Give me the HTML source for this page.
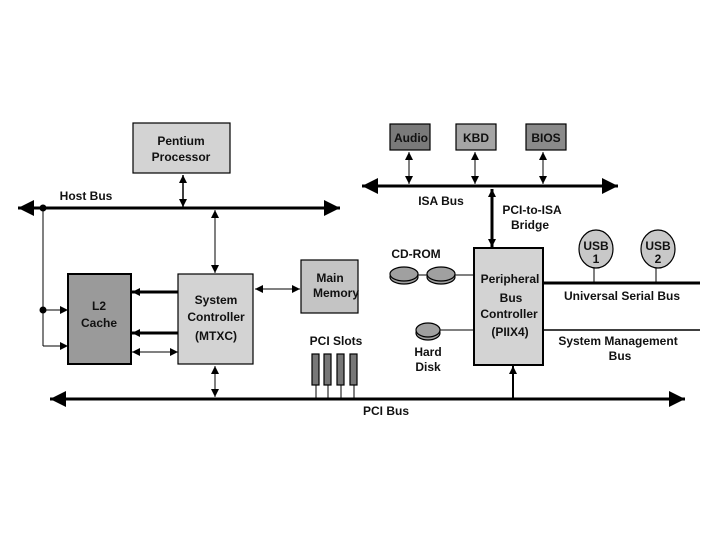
<!DOCTYPE html>
<html><head><meta charset="utf-8"><style>
html,body{margin:0;padding:0;background:#fff;}
svg{display:block;}
text{font-family:"Liberation Sans",sans-serif;font-weight:bold;font-size:12px;fill:#111;text-anchor:middle;}
</style></head><body>
<svg width="720" height="540" viewBox="0 0 720 540" xmlns="http://www.w3.org/2000/svg">
<defs>
<marker id="a" viewBox="0 0 10 10" refX="10" refY="5" markerWidth="3" markerHeight="3" orient="auto-start-reverse" markerUnits="userSpaceOnUse"><path d="M0,0L10,5L0,10z" fill="#000"/></marker>
<marker id="s" viewBox="0 0 10 10" refX="10" refY="5" markerWidth="8" markerHeight="8" orient="auto-start-reverse" markerUnits="userSpaceOnUse"><path d="M0,0L10,5L0,10z" fill="#000"/></marker>
<marker id="b" viewBox="0 0 10 10" refX="10" refY="5" markerWidth="16" markerHeight="16" orient="auto-start-reverse" markerUnits="userSpaceOnUse"><path d="M0,0L10,5L0,10z" fill="#000"/></marker>
</defs>
<g stroke="#000" fill="none">
<!-- host bus -->
<line x1="18" y1="208" x2="340" y2="208" stroke-width="3" marker-start="url(#b)" marker-end="url(#b)"/>
<line x1="43" y1="208" x2="43" y2="346" stroke-width="1"/>
<line x1="43" y1="310" x2="68" y2="310" stroke-width="1" marker-end="url(#s)"/>
<line x1="43" y1="346" x2="68" y2="346" stroke-width="1" marker-end="url(#s)"/>
<line x1="183" y1="175" x2="183" y2="207" stroke-width="1.5" marker-start="url(#s)" marker-end="url(#s)"/>
<line x1="215" y1="210" x2="215" y2="273" stroke-width="1" marker-start="url(#s)" marker-end="url(#s)"/>
<line x1="178" y1="292" x2="132" y2="292" stroke-width="3" marker-end="url(#s)"/>
<line x1="178" y1="333" x2="132" y2="333" stroke-width="3" marker-end="url(#s)"/>
<line x1="132" y1="352" x2="178" y2="352" stroke-width="1" marker-start="url(#s)" marker-end="url(#s)"/>
<line x1="255" y1="289" x2="300" y2="289" stroke-width="1" marker-start="url(#s)" marker-end="url(#s)"/>
<line x1="215" y1="366" x2="215" y2="397" stroke-width="1" marker-start="url(#s)" marker-end="url(#s)"/>
<!-- PCI bus -->
<line x1="50" y1="399" x2="685" y2="399" stroke-width="3" marker-start="url(#b)" marker-end="url(#b)"/>
<line x1="316" y1="385" x2="316" y2="399"/><line x1="328" y1="385" x2="328" y2="399"/><line x1="341" y1="385" x2="341" y2="399"/><line x1="354" y1="385" x2="354" y2="399"/>
<line x1="513" y1="399" x2="513" y2="366" stroke-width="2" marker-end="url(#s)"/>
<!-- ISA bus -->
<line x1="362" y1="186" x2="618" y2="186" stroke-width="3" marker-start="url(#b)" marker-end="url(#b)"/>
<line x1="409" y1="152" x2="409" y2="184" stroke-width="1" marker-start="url(#s)" marker-end="url(#s)"/>
<line x1="475" y1="152" x2="475" y2="184" stroke-width="1" marker-start="url(#s)" marker-end="url(#s)"/>
<line x1="543" y1="152" x2="543" y2="184" stroke-width="1" marker-start="url(#s)" marker-end="url(#s)"/>
<line x1="492" y1="189" x2="492" y2="247" stroke-width="3" marker-start="url(#s)" marker-end="url(#s)"/>
<!-- peripherals -->
<line x1="404" y1="275" x2="474" y2="275"/>
<line x1="428" y1="330" x2="474" y2="330"/>
<line x1="543" y1="283" x2="700" y2="283" stroke-width="3"/>
<line x1="543" y1="330" x2="700" y2="330" stroke-width="1.5"/>
<line x1="594" y1="264" x2="594" y2="283"/><line x1="656" y1="264" x2="656" y2="283"/>
</g>
<circle cx="43" cy="208" r="3.5"/><circle cx="43" cy="310" r="3.5"/>
<g stroke="#000" stroke-width="1.2">
<rect x="133" y="123" width="97" height="50" fill="#d3d3d3"/>
<rect x="68" y="274" width="63" height="90" fill="#9a9a9a" stroke-width="2"/>
<rect x="178" y="274" width="75" height="90" fill="#d3d3d3"/>
<rect x="301" y="260" width="57" height="53" fill="#c4c4c4"/>
<rect x="312" y="354" width="7" height="31" fill="#777"/><rect x="324" y="354" width="7" height="31" fill="#777"/><rect x="337" y="354" width="7" height="31" fill="#777"/><rect x="350" y="354" width="7" height="31" fill="#777"/>
<rect x="390" y="124" width="40" height="26" fill="#7a7a7a"/>
<rect x="456" y="124" width="40" height="26" fill="#a5a5a5"/>
<rect x="526" y="124" width="40" height="26" fill="#8a8a8a"/>
<rect x="474" y="248" width="69" height="117" fill="#d3d3d3" stroke-width="2"/>
<ellipse cx="404" cy="277" rx="14" ry="7" fill="#a0a0a0"/><ellipse cx="404" cy="274" rx="14" ry="7" fill="#a0a0a0"/>
<ellipse cx="441" cy="277" rx="14" ry="7" fill="#a0a0a0"/><ellipse cx="441" cy="274" rx="14" ry="7" fill="#a0a0a0"/>
<ellipse cx="428" cy="333" rx="12" ry="7" fill="#a0a0a0"/><ellipse cx="428" cy="330" rx="12" ry="7" fill="#a0a0a0"/>
<ellipse cx="596" cy="249" rx="17" ry="19" fill="#c8c8c8"/>
<ellipse cx="658" cy="249" rx="17" ry="19" fill="#c8c8c8"/>
</g>
<text x="181" y="145">Pentium</text><text x="181" y="161">Processor</text>
<text x="86" y="200">Host Bus</text>
<text x="99" y="310">L2</text><text x="99" y="327">Cache</text>
<text x="216" y="304">System</text><text x="216" y="321">Controller</text><text x="216" y="340">(MTXC)</text>
<text x="330" y="282">Main</text><text x="336" y="297">Memory</text>
<text x="336" y="345">PCI Slots</text>
<text x="386" y="415">PCI Bus</text>
<text x="411" y="142">Audio</text><text x="476" y="142">KBD</text><text x="546" y="142">BIOS</text>
<text x="441" y="205">ISA Bus</text>
<text x="532" y="214">PCI-to-ISA</text><text x="530" y="229">Bridge</text>
<text x="416" y="258">CD-ROM</text>
<text x="428" y="356">Hard</text><text x="428" y="371">Disk</text>
<text x="510" y="283">Peripheral</text><text x="511" y="302">Bus</text><text x="509" y="318">Controller</text><text x="510" y="336">(PIIX4)</text>
<text x="596" y="250">USB</text><text x="596" y="263">1</text>
<text x="658" y="250">USB</text><text x="658" y="263">2</text>
<text x="622" y="300">Universal Serial Bus</text>
<text x="618" y="345">System Management</text><text x="620" y="360">Bus</text>
</svg>
</body></html>
